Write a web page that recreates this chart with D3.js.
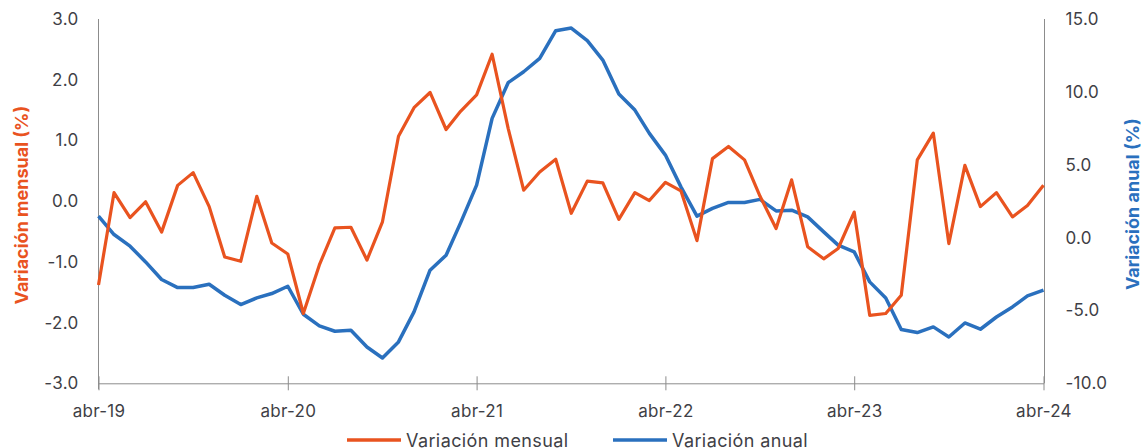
<!DOCTYPE html>
<html>
<head>
<meta charset="utf-8">
<script src="https://cdn.jsdelivr.net/npm/d3@7"></script>
<style>
  html, body { margin: 0; padding: 0; background: #ffffff; }
  svg { display: block; }
  text { font-family: "Inter", "Open Sans", "Liberation Sans", sans-serif; }
</style>
</head>
<body>
<svg id="chart" width="1142" height="448"></svg>
<script>
// Monthly series from April 2019 to April 2024
const startMonth = new Date(2019, 3, 1);
const endMonth = new Date(2024, 3, 1);
const months = d3.timeMonth.range(startMonth, d3.timeMonth.offset(endMonth, 1));

// Month-over-month change (%), left axis
const variacionMensual = [
  -1.38, 0.14, -0.27, -0.01, -0.51, 0.26, 0.47, -0.09, -0.92, -0.99, 0.08, -0.69,
  -0.87, -1.85, -1.05, -0.44, -0.43, -0.97, -0.34, 1.07, 1.54, 1.79, 1.18, 1.48,
  1.75, 2.42, 1.20, 0.18, 0.48, 0.69, -0.20, 0.33, 0.30, -0.30, 0.14, 0.01,
  0.31, 0.17, -0.65, 0.70, 0.90, 0.68, 0.08, -0.45, 0.35, -0.75, -0.95, -0.78,
  -0.18, -1.88, -1.85, -1.55, 0.68, 1.12, -0.70, 0.59, -0.09, 0.14, -0.26, -0.07,
  0.26
];

// Year-over-year change (%), right axis
const variacionAnual = [
  1.47, 0.21, -0.59, -1.67, -2.88, -3.43, -3.43, -3.20, -3.96, -4.60, -4.14, -3.84,
  -3.34, -5.26, -6.06, -6.43, -6.36, -7.51, -8.26, -7.16, -5.10, -2.24, -1.21, 1.01,
  3.60, 8.18, 10.63, 11.38, 12.30, 14.20, 14.38, 13.51, 12.18, 9.85, 8.75, 7.15,
  5.66, 3.48, 1.47, 2.00, 2.41, 2.41, 2.62, 1.83, 1.88, 1.42, 0.39, -0.52,
  -0.98, -3.04, -4.14, -6.31, -6.52, -6.13, -6.82, -5.86, -6.29, -5.45, -4.76, -4.00,
  -3.61
];

const leftTicks = [-3, -2, -1, 0, 1, 2, 3];
const rightTicks = [-10, -5, 0, 5, 10, 15];
const xTickLabels = ["abr-19", "abr-20", "abr-21", "abr-22", "abr-23", "abr-24"];
const xTickDates = xTickLabels.map((_, i) => d3.timeMonth.offset(startMonth, 12 * i));

const seriesNames = ["Variación mensual", "Variación anual"];
const axisTitles = ["Variación mensual (%)", "Variación anual (%)"];

const colorMensual = "#E9531F";
const colorAnual = "#2A70BE";
const axisColor = "#8c8c8c";
const labelColor = "#3f3f46";

// Number format with a plain hyphen for negatives
const fmt = d3.formatLocale({ decimal: ".", thousands: ",", grouping: [3], currency: ["", ""], minus: "-" }).format(".1f");

const svg = d3.select("#chart");
const plot = { left: 98.5, right: 1043.5, top: 19, bottom: 383.3 };

const x = d3.scaleTime().domain([startMonth, endMonth]).range([plot.left, plot.right]);
const yL = d3.scaleLinear().domain([-3, 3]).range([plot.bottom, plot.top]);
const yR = d3.scaleLinear().domain([-10, 15]).range([plot.bottom, plot.top]);

const tickFont = "17px";

// Left axis
const leftAxis = svg.append("g")
  .attr("transform", `translate(${plot.left},0)`)
  .call(d3.axisLeft(yL).tickValues(leftTicks).tickFormat(fmt).tickSize(0).tickPadding(20));
leftAxis.select(".domain").attr("stroke", axisColor).attr("d", `M0,${plot.top}V${plot.bottom + 6}`);
leftAxis.selectAll("text").attr("fill", labelColor).style("font-size", tickFont).style("letter-spacing", "0.3px");

// Right axis
const rightAxis = svg.append("g")
  .attr("transform", `translate(${plot.right + 1},0)`)
  .call(d3.axisRight(yR).tickValues(rightTicks).tickFormat(fmt).tickSize(0).tickPadding(21));
rightAxis.select(".domain").attr("stroke", axisColor).attr("d", `M0,${plot.top}V${plot.bottom}`);
rightAxis.selectAll("text").attr("fill", labelColor).style("font-size", tickFont).style("letter-spacing", "0.3px");

// Bottom axis, ticks crossing the baseline
const bottomAxis = svg.append("g")
  .attr("transform", `translate(0,${plot.bottom})`)
  .call(d3.axisBottom(x).tickValues(xTickDates).tickFormat((d, i) => xTickLabels[i]).tickSizeInner(7).tickSizeOuter(0).tickPadding(15));
bottomAxis.select(".domain").attr("stroke", axisColor);
bottomAxis.selectAll(".tick line").attr("stroke", axisColor).attr("y1", -7).attr("y2", 7);
bottomAxis.selectAll("text").attr("fill", labelColor).style("font-size", tickFont).style("letter-spacing", "0.3px");

// Axis titles
svg.append("text")
  .attr("transform", `translate(28,${(plot.top + plot.bottom) / 2 + 4}) rotate(-90)`)
  .attr("text-anchor", "middle")
  .attr("fill", colorMensual)
  .style("font-size", "18px")
  .style("font-weight", "bold")
  .text(axisTitles[0]);

svg.append("text")
  .attr("transform", `translate(1139,${(plot.top + plot.bottom) / 2 + 3}) rotate(-90)`)
  .attr("text-anchor", "middle")
  .attr("fill", colorAnual)
  .style("font-size", "18px")
  .style("font-weight", "bold")
  .text(axisTitles[1]);

// Lines
const lineMensual = d3.line().x((d, i) => x(months[i])).y(d => yL(d));
const lineAnual = d3.line().x((d, i) => x(months[i])).y(d => yR(d));

svg.append("path")
  .datum(variacionAnual)
  .attr("fill", "none")
  .attr("stroke", colorAnual)
  .attr("stroke-width", 3.5)
  .attr("stroke-linejoin", "round")
  .attr("d", lineAnual);

svg.append("path")
  .datum(variacionMensual)
  .attr("fill", "none")
  .attr("stroke", colorMensual)
  .attr("stroke-width", 3.2)
  .attr("stroke-linejoin", "round")
  .attr("d", lineMensual);

// Legend
const legend = svg.append("g").attr("transform", "translate(0,440)");
const legendItems = [
  { name: seriesNames[0], color: colorMensual, x0: 347 },
  { name: seriesNames[1], color: colorAnual, x0: 613 }
];
legendItems.forEach(item => {
  legend.append("line")
    .attr("x1", item.x0).attr("x2", item.x0 + 54)
    .attr("y1", 0).attr("y2", 0)
    .attr("stroke", item.color).attr("stroke-width", 3.5);
  legend.append("text")
    .attr("x", item.x0 + 59).attr("y", 6.5)
    .attr("fill", labelColor)
    .style("font-size", "18px")
    .style("letter-spacing", "0.4px")
    .text(item.name);
});
</script>
</body>
</html>
